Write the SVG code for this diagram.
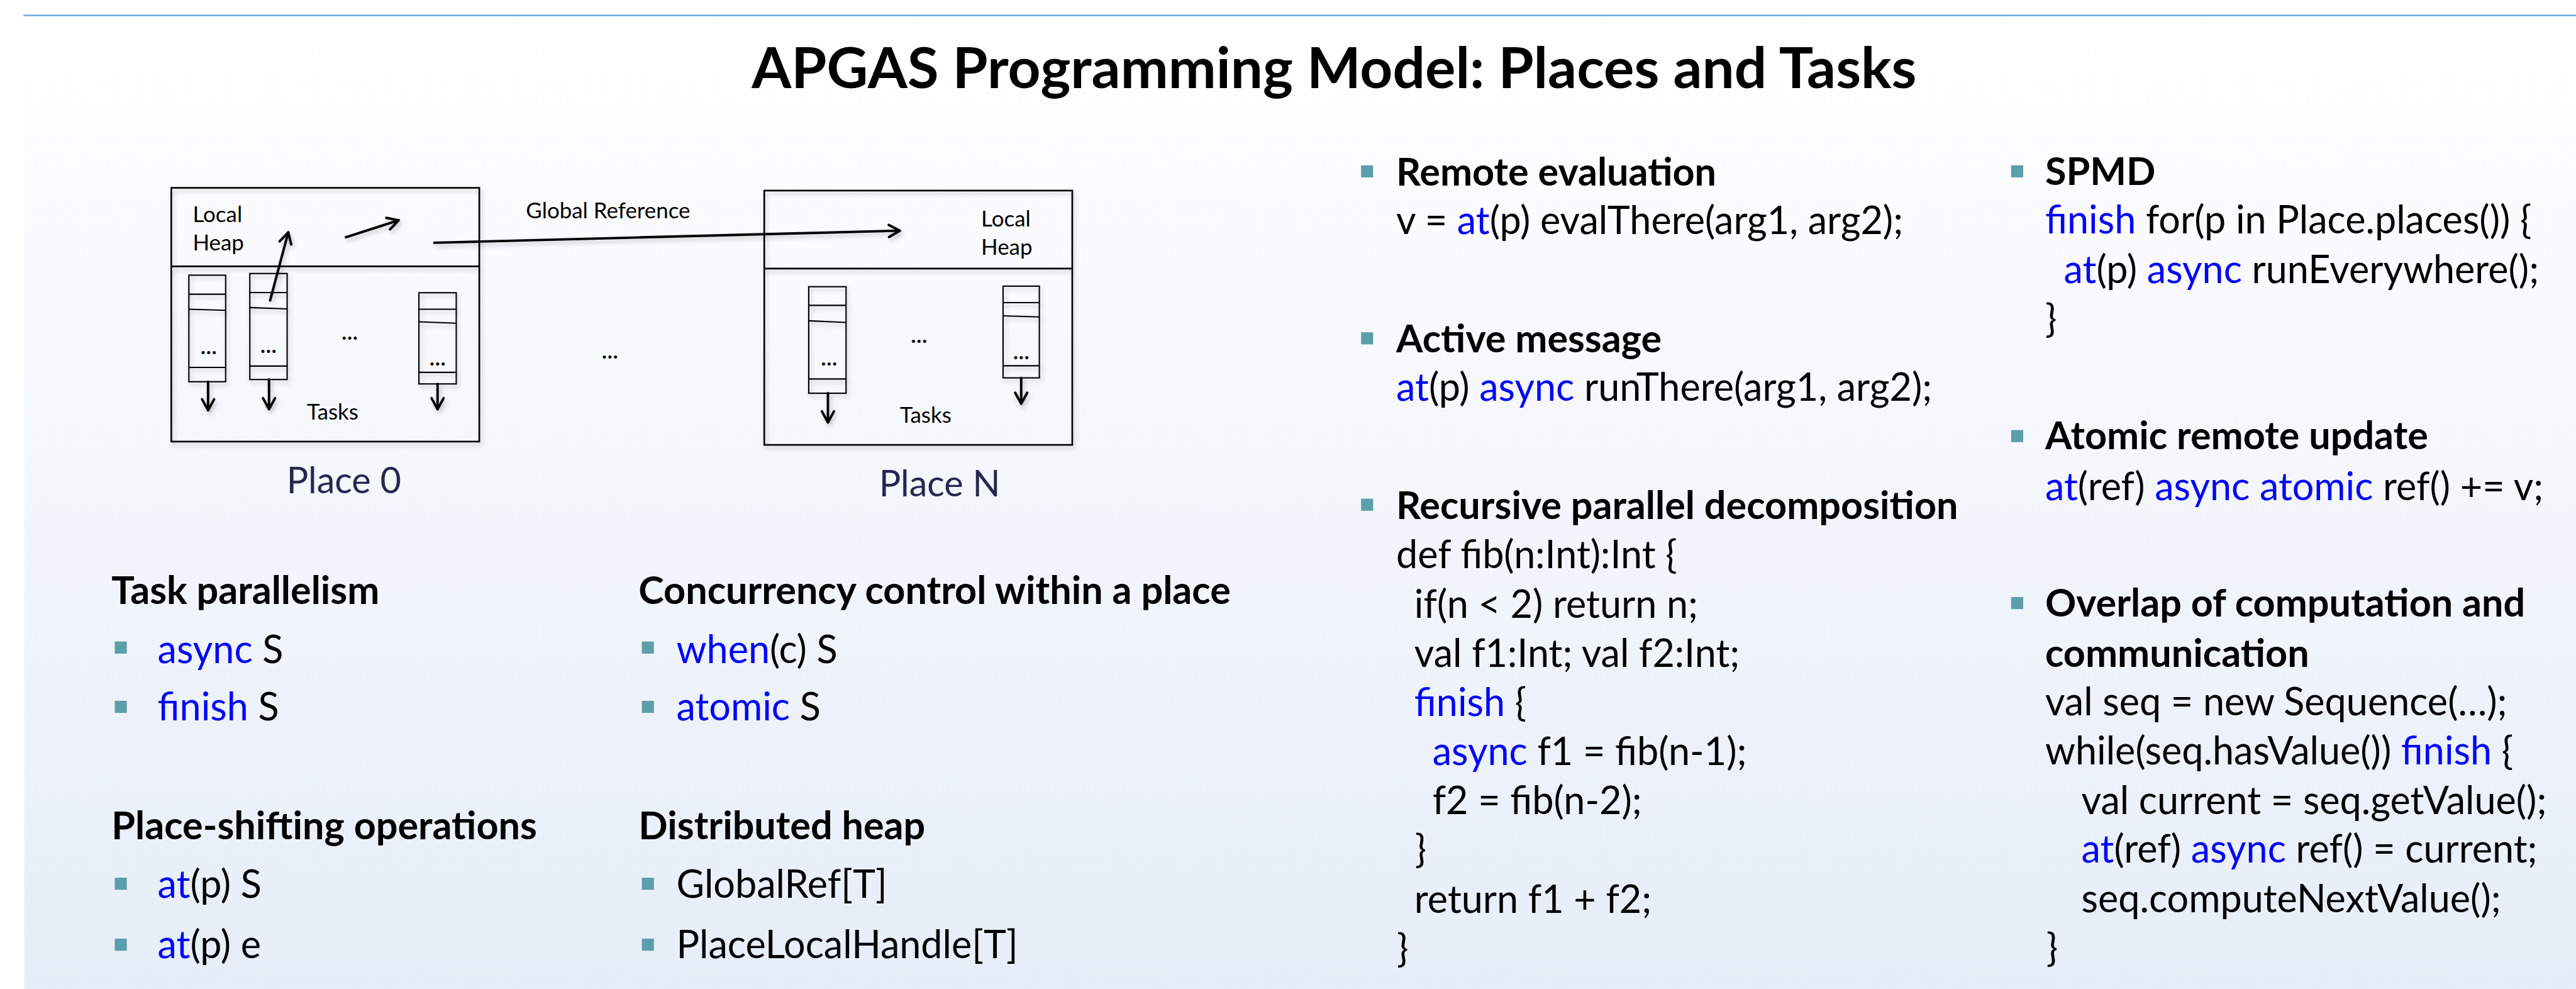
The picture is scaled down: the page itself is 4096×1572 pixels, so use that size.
<svg xmlns="http://www.w3.org/2000/svg" width="4096" height="1572" viewBox="0 0 4096 1572">
  <defs>
    <linearGradient id="bg" x1="0" y1="0" x2="0" y2="1">
      <stop offset="0" stop-color="#ffffff"/>
      <stop offset="1" stop-color="#e6edf8"/>
    </linearGradient>
    <filter id="shadow" x="-10%" y="-10%" width="130%" height="130%">
      <feDropShadow dx="3" dy="5" stdDeviation="4" flood-color="#000" flood-opacity="0.22"/>
    </filter>
    <filter id="edge" x="-50%" y="0" width="200%" height="100%">
      <feDropShadow dx="-4" dy="0" stdDeviation="3" flood-color="#000" flood-opacity="0.25"/>
    </filter>
    <marker id="ah" viewBox="-26 -15 30 30" markerWidth="30" markerHeight="30" refX="0" refY="0" orient="auto" markerUnits="userSpaceOnUse">
      <path d="M-20,-11 L0,0 L-20,11" fill="none" stroke="#000" stroke-width="4.5" stroke-linecap="round" stroke-linejoin="round"/>
    </marker>
    <style>
      text { font-family: Lato, "Liberation Sans", sans-serif; fill: #000; }
      .title { font-size: 104px; font-weight: bold; }
      .h { font-size: 70px; font-weight: bold; }
      .c { font-size: 70px; }
      .k { fill: #0000ff; }
      .sm { font-size: 40px; }
      .dots { font-size: 38px; text-anchor: middle; font-weight: bold; }
      .pl { font-size: 66px; fill: #262850; }
      .box { fill: none; stroke: #000; stroke-width: 3; }
      .stk { fill: none; stroke: #000; stroke-width: 2.4; }
      .bul { fill: #5b9fab; }
      .arr { fill: none; stroke: #000; stroke-width: 4.5; stroke-linecap: round; marker-end: url(#ah); }
    </style>
  </defs>

  <rect x="0" y="0" width="4096" height="1572" fill="#ffffff"/>

  <g transform="scale(0.873)">
    <!-- slide frame -->
    <rect x="44" y="28" width="4700" height="1800" fill="url(#bg)"/>
    <line x1="44" y1="28" x2="44" y2="1820" stroke="#6fa8dc" stroke-width="3" filter="url(#edge)"/>
    <line x1="42.5" y1="28" x2="4700" y2="28" stroke="#6fa8dc" stroke-width="3"/>

    <g id="title">
      <text class="title" x="2430" y="160" text-anchor="middle">APGAS Programming Model: Places and Tasks</text>
    </g>

    <!-- Place 0 -->
    <g id="place0">
      <g filter="url(#shadow)">
        <rect class="box" x="312" y="342" width="561" height="462" fill="#f7f9fc"/>
        <line class="box" x1="312" y1="485" x2="873" y2="485"/>
        <g id="place0-task1">
          <rect class="stk" x="344" y="501" width="67" height="194"/>
          <line class="stk" x1="344" y1="535.6" x2="411" y2="535.6"/>
          <line class="stk" x1="344" y1="563" x2="411" y2="565"/>
          <line class="stk" x1="344" y1="669" x2="411" y2="669"/>
        </g>
        <g id="place0-task2">
          <rect class="stk" x="455" y="498" width="68" height="193"/>
          <line class="stk" x1="455" y1="532.6" x2="523" y2="532.6"/>
          <line class="stk" x1="455" y1="560" x2="523" y2="562.5"/>
          <line class="stk" x1="455" y1="666.5" x2="523" y2="666.5"/>
        </g>
        <g id="place0-task3">
          <rect class="stk" x="763" y="533" width="68" height="166"/>
          <line class="stk" x1="763" y1="563" x2="831" y2="563"/>
          <line class="stk" x1="763" y1="586" x2="831" y2="588.5"/>
          <line class="stk" x1="763" y1="678" x2="831" y2="678"/>
        </g>
      </g>
      <text class="sm" x="351" y="404">Local</text>
      <text class="sm" x="351" y="456">Heap</text>
      <text class="dots" x="380" y="645">…</text>
      <text class="dots" x="489" y="643">…</text>
      <text class="dots" x="637" y="618">…</text>
      <text class="dots" x="797" y="665">…</text>
      <text class="sm" x="559" y="764">Tasks</text>
      <text class="pl" x="522" y="898">Place 0</text>
    </g>

    <text class="dots" x="1111" y="653">…</text>

    <!-- Place N -->
    <g id="placeN">
      <g filter="url(#shadow)">
        <rect class="box" x="1392" y="347" width="561" height="463" fill="#f7f9fc"/>
        <line class="box" x1="1392" y1="489" x2="1953" y2="489"/>
        <g id="placeN-task1">
          <rect class="stk" x="1473" y="522" width="68" height="194"/>
          <line class="stk" x1="1473" y1="556" x2="1541" y2="556"/>
          <line class="stk" x1="1473" y1="584" x2="1541" y2="587"/>
          <line class="stk" x1="1473" y1="690" x2="1541" y2="690"/>
        </g>
        <g id="placeN-task2">
          <rect class="stk" x="1827" y="521" width="66" height="167"/>
          <line class="stk" x1="1827" y1="551" x2="1893" y2="551"/>
          <line class="stk" x1="1827" y1="575" x2="1893" y2="577"/>
          <line class="stk" x1="1827" y1="666" x2="1893" y2="666"/>
        </g>
      </g>
      <text class="sm" x="1787" y="412">Local</text>
      <text class="sm" x="1787" y="464">Heap</text>
      <text class="dots" x="1510" y="666">…</text>
      <text class="dots" x="1674" y="624">…</text>
      <text class="dots" x="1860" y="654">…</text>
      <text class="sm" x="1639" y="770">Tasks</text>
      <text class="pl" x="1601" y="904">Place N</text>
    </g>

    <!-- references and task flow -->
    <g id="connectors" filter="url(#shadow)">
      <line class="arr" x1="492" y1="547" x2="525" y2="423"/>
      <line class="arr" x1="630" y1="432" x2="726" y2="401"/>
      <line class="arr" x1="791" y1="442" x2="1639" y2="420"/>
      <line class="arr" x1="379" y1="695" x2="379" y2="747"/>
      <line class="arr" x1="490" y1="691" x2="490" y2="745"/>
      <line class="arr" x1="797" y1="699" x2="797" y2="745"/>
      <line class="arr" x1="1508" y1="716" x2="1508" y2="769"/>
      <line class="arr" x1="1860" y1="688" x2="1860" y2="735"/>
    </g>
    <g id="global-ref-label">
      <text class="sm" x="958" y="397">Global Reference</text>
    </g>

    <!-- constructs -->
    <g id="task-parallelism">
      <text class="h" x="203" y="1100">Task parallelism</text>
      <rect class="bul" x="209" y="1168" width="22" height="22"/>
      <text class="c" x="287" y="1207"><tspan class="k">async</tspan> S</text>
      <rect class="bul" x="209" y="1276" width="22" height="22"/>
      <text class="c" x="287" y="1312"><tspan class="k">finish</tspan> S</text>
    </g>
    <g id="concurrency-control">
      <text class="h" x="1163" y="1100">Concurrency control within a place</text>
      <rect class="bul" x="1169" y="1168" width="22" height="22"/>
      <text class="c" x="1232" y="1207"><tspan class="k">when</tspan>(c) S</text>
      <rect class="bul" x="1169" y="1276" width="22" height="22"/>
      <text class="c" x="1232" y="1312"><tspan class="k">atomic</tspan> S</text>
    </g>
    <g id="place-shifting">
      <text class="h" x="203" y="1528">Place-shifting operations</text>
      <rect class="bul" x="209" y="1598" width="22" height="22"/>
      <text class="c" x="287" y="1635"><tspan class="k">at</tspan>(p) S</text>
      <rect class="bul" x="209" y="1709" width="22" height="22"/>
      <text class="c" x="287" y="1745"><tspan class="k">at</tspan>(p) e</text>
    </g>
    <g id="distributed-heap">
      <text class="h" x="1163" y="1528">Distributed heap</text>
      <rect class="bul" x="1169" y="1598" width="22" height="22"/>
      <text class="c" x="1232" y="1635">GlobalRef[T]</text>
      <rect class="bul" x="1169" y="1709" width="22" height="22"/>
      <text class="c" x="1232" y="1745">PlaceLocalHandle[T]</text>
    </g>

    <!-- idioms, middle column -->
    <g id="remote-evaluation">
      <rect class="bul" x="2479" y="301" width="22" height="22"/>
      <text class="h" x="2543" y="338">Remote evaluation</text>
      <text class="c" x="2543" y="426">v = <tspan class="k">at</tspan>(p) evalThere(arg1, arg2);</text>
    </g>
    <g id="active-message">
      <rect class="bul" x="2479" y="605" width="22" height="22"/>
      <text class="h" x="2543" y="642">Active message</text>
      <text class="c" x="2543" y="730"><tspan class="k">at</tspan>(p) <tspan class="k">async</tspan> runThere(arg1, arg2);</text>
    </g>
    <g id="recursive-decomposition">
      <rect class="bul" x="2479" y="908" width="22" height="22"/>
      <text class="h" x="2543" y="945">Recursive parallel decomposition</text>
      <text class="c" x="2543" y="1034">def fib(n:Int):Int {</text>
      <text class="c" x="2576" y="1125">if(n &lt; 2) return n;</text>
      <text class="c" x="2576" y="1214">val f1:Int; val f2:Int;</text>
      <text class="c" x="2576" y="1303"><tspan class="k">finish</tspan> {</text>
      <text class="c" x="2609" y="1393"><tspan class="k">async</tspan> f1 = fib(n-1);</text>
      <text class="c" x="2609" y="1482">f2 = fib(n-2);</text>
      <text class="c" x="2577" y="1571">}</text>
      <text class="c" x="2576" y="1662">return f1 + f2;</text>
      <text class="c" x="2544" y="1752">}</text>
    </g>

    <!-- idioms, right column -->
    <g id="spmd">
      <rect class="bul" x="3663" y="301" width="22" height="22"/>
      <text class="h" x="3725" y="337">SPMD</text>
      <text class="c" x="3725" y="425"><tspan class="k">finish</tspan> for(p in Place.places()) {</text>
      <text class="c" x="3759" y="515"><tspan class="k">at</tspan>(p) <tspan class="k">async</tspan> runEverywhere();</text>
      <text class="c" x="3725" y="605">}</text>
    </g>
    <g id="atomic-remote-update">
      <rect class="bul" x="3663" y="783" width="22" height="22"/>
      <text class="h" x="3725" y="818">Atomic remote update</text>
      <text class="c" x="3725" y="911"><tspan class="k">at</tspan>(ref) <tspan class="k">async atomic</tspan> ref() += v;</text>
    </g>
    <g id="overlap">
      <rect class="bul" x="3663" y="1087" width="22" height="22"/>
      <text class="h" x="3725" y="1122">Overlap of computation and</text>
      <text class="h" x="3725" y="1214">communication</text>
      <text class="c" x="3725" y="1302">val seq = new Sequence(…);</text>
      <text class="c" x="3725" y="1392">while(seq.hasValue()) <tspan class="k">finish</tspan> {</text>
      <text class="c" x="3791" y="1482">val current = seq.getValue();</text>
      <text class="c" x="3791" y="1570"><tspan class="k">at</tspan>(ref) <tspan class="k">async</tspan> ref() = current;</text>
      <text class="c" x="3791" y="1661">seq.computeNextValue();</text>
      <text class="c" x="3727" y="1750">}</text>
    </g>
  </g>
</svg>
